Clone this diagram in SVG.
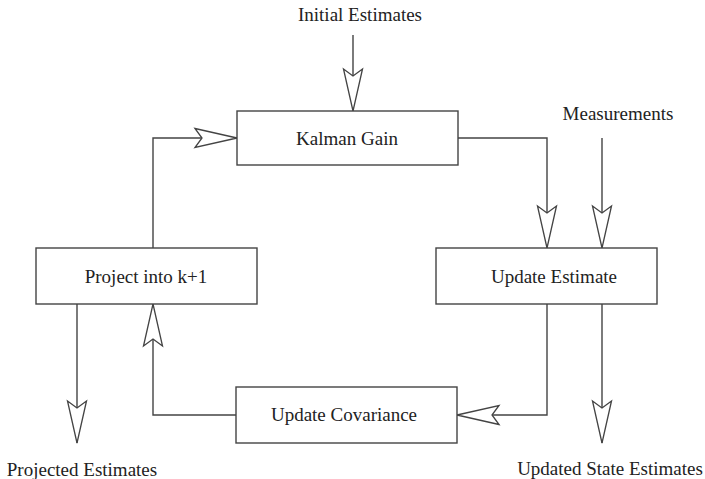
<svg xmlns="http://www.w3.org/2000/svg" width="705" height="479" viewBox="0 0 705 479">
<style>
  .box { fill: #ffffff; stroke: #444444; stroke-width: 1.4; }
  .lbl { font-family: "Liberation Serif", "Times New Roman", serif; font-size: 19px; fill: #222222; text-anchor: middle; }
  .conn { fill: none; stroke: #444444; stroke-width: 1.4; marker-end: url(#arr); }
</style>
<defs>
  <marker id="arr" markerUnits="userSpaceOnUse" markerWidth="46" markerHeight="24" refX="42" refY="10" orient="auto" overflow="visible">
    <path d="M0,0.5 L42,10 L0,19.5 L7,10 Z" fill="#ffffff" stroke="#444444" stroke-width="1.3" stroke-linejoin="miter"/>
  </marker>
</defs>
<rect width="705" height="479" fill="#ffffff"/>
<g id="connectors">
  <path class="conn" d="M353,35 L353,111"/>
  <path class="conn" d="M153,248 L153,138 L237,138"/>
  <path class="conn" d="M458,138 L547,138 L547,248"/>
  <path class="conn" d="M602,138 L602,248"/>
  <path class="conn" d="M547,304 L547,415 L457,415"/>
  <path class="conn" d="M236,415 L153,415 L153,304"/>
  <path class="conn" d="M77,304 L77,443"/>
  <path class="conn" d="M602,304 L602,443"/>
</g>
<g id="kalman-gain">
  <rect class="box" x="237" y="111" width="221" height="54"/>
  <text class="lbl" x="347" y="145">Kalman Gain</text>
</g>
<g id="project">
  <rect class="box" x="36" y="248" width="221" height="56"/>
  <text class="lbl" x="146" y="283">Project into k+1</text>
</g>
<g id="update-estimate">
  <rect class="box" x="436" y="248" width="221" height="56"/>
  <text class="lbl" x="554" y="283">Update Estimate</text>
</g>
<g id="update-covariance">
  <rect class="box" x="236" y="387" width="221" height="56"/>
  <text class="lbl" x="344" y="421">Update Covariance</text>
</g>
<g id="initial-estimates">
  <text class="lbl" x="360" y="21">Initial Estimates</text>
</g>
<g id="measurements">
  <text class="lbl" x="618" y="120">Measurements</text>
</g>
<g id="projected-estimates">
  <text class="lbl" x="82" y="476">Projected Estimates</text>
</g>
<g id="updated-state-estimates">
  <text class="lbl" x="610" y="475">Updated State Estimates</text>
</g>
</svg>
